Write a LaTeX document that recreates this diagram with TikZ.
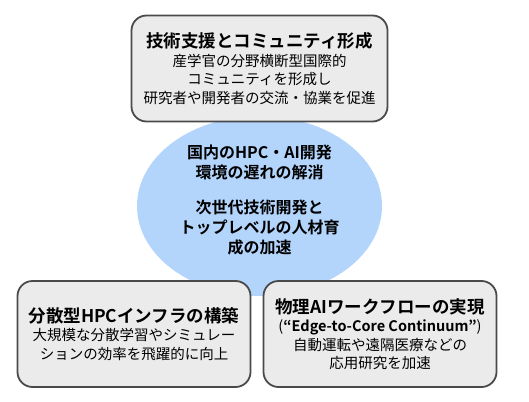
\documentclass[tikz,border=0pt]{standalone}
\usepackage{fontspec}
\setmainfont{Noto Sans CJK JP}[BoldFont=* Bold]
\usepackage{xcolor}
\usepackage{tikz}
\usetikzlibrary{shapes.geometric}
\definecolor{boxfill}{HTML}{EBEBEB}
\definecolor{boxdraw}{HTML}{4A4A4A}
\definecolor{corefill}{HTML}{B3D4FB}
\tikzset{
  topicbox/.style={draw=boxdraw,fill=boxfill,line width=1.8pt,rounded corners=15pt,align=center,inner sep=0pt,font=\fontsize{14.5}{18.5}\selectfont},
  coreellipse/.style={ellipse,fill=corefill,draw=none,inner sep=0pt},
  coretext/.style={align=center,inner sep=0pt,font=\bfseries\fontsize{16}{20}\selectfont}
}
\newcommand{\boxtitle}[1]{{\bfseries\fontsize{17.5}{19}\selectfont #1}}

\begin{document}
\begin{tikzpicture}[x=1pt,y=-1pt]
  % drawing parameters
  \pgfmathsetmacro{\bwdt}{233} % width of lower boxes
  \pgfmathsetmacro{\bhgt}{106} % height of boxes

  \useasboundingbox (0,0) rectangle (529,401);

  % centre
  \node [coreellipse,minimum width=245pt,minimum height=180pt] (core) at (259.5,206) {};
  \node [coretext] (coretxt) at ([yshift=6pt]core.center)
    {国内のHPC・AI開発\\環境の遅れの解消\\[15pt]次世代技術開発と\\トップレベルの人材育\\成の加速};

  % top
  \node [topicbox,minimum width=256pt,minimum height=\bhgt pt] (support) at (259.5,68.5)
    {\boxtitle{技術支援とコミュニティ形成}\\産学官の分野横断型国際的\\コミュニティを形成し\\研究者や開発者の交流・協業を促進};

  % bottom left
  \node [topicbox,minimum width=\bwdt pt,minimum height=\bhgt pt] (infra) at (134,334)
    {\boxtitle{分散型HPCインフラの構築}\\大規模な分散学習やシミュレー\\ションの効率を飛躍的に向上};

  % bottom right
  \node [topicbox,minimum width=\bwdt pt,minimum height=\bhgt pt] (physai) at (380,334)
    {\boxtitle{物理AIワークフローの実現}\\({\bfseries “Edge-to-Core Continuum”})\\自動運転や遠隔医療などの\\応用研究を加速};
\end{tikzpicture}
\end{document}
